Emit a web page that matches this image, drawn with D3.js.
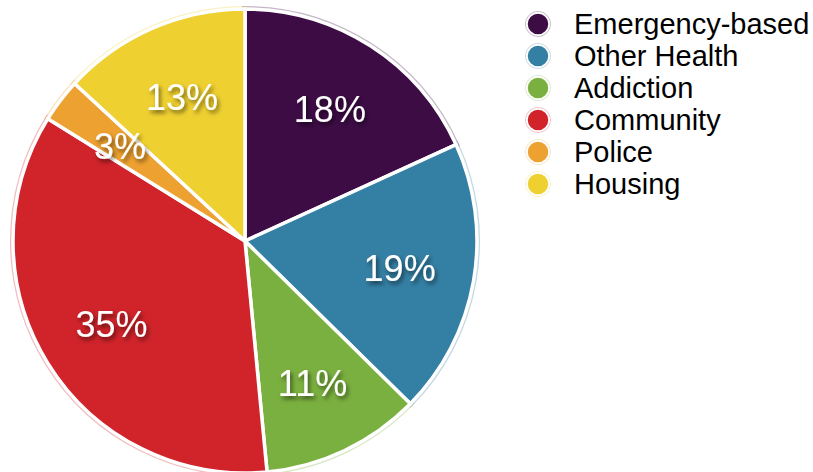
<!DOCTYPE html>
<html>
<head>
<meta charset="utf-8">
<script src="https://cdn.jsdelivr.net/npm/d3@7/dist/d3.min.js"></script>
<style>
  html, body { margin: 0; padding: 0; background: #fff; }
  svg { display: block; }
</style>
</head>
<body>
<svg id="chart" width="813" height="472"></svg>
<script>
// Share of referrals by source (percent)
const categories = ["Emergency-based", "Other Health", "Addiction", "Community", "Police", "Housing"];
const values = [18, 19, 11, 35, 3, 13];
const colors = ["#3d0c45", "#347fa4", "#7ab03f", "#d0232a", "#eda130", "#efd031"];

const svg = d3.select("#chart");
const cx = 245, cy = 241, R = 232;

// drop shadow for slice labels
const defs = svg.append("defs");
const f = defs.append("filter").attr("id", "lblShadow")
  .attr("x", "-30%").attr("y", "-30%").attr("width", "160%").attr("height", "160%");
f.append("feDropShadow").attr("dx", 2).attr("dy", 3).attr("stdDeviation", 2)
  .attr("flood-color", "#000").attr("flood-opacity", 0.55);

const data = categories.map((c, i) => ({ name: c, value: values[i], color: colors[i] }));

const pie = d3.pie().value(d => d.value).sort(null);
const arcs = pie(data);
const arc = d3.arc().innerRadius(0).outerRadius(R);
const labelArc = d3.arc().innerRadius(157).outerRadius(157);

const g = svg.append("g").attr("transform", `translate(${cx},${cy})`);

// faint coloured halo around each slice
g.selectAll("path.halo").data(arcs).join("path")
  .attr("class", "halo")
  .attr("d", arc)
  .attr("fill", d => d.data.color)
  .attr("stroke", d => d.data.color)
  .attr("stroke-opacity", 0.3)
  .attr("stroke-width", 6);

// slices with white separators
g.selectAll("path.slice").data(arcs).join("path")
  .attr("class", "slice")
  .attr("d", arc)
  .attr("fill", d => d.data.color)
  .attr("stroke", "#fff")
  .attr("stroke-width", 3.5)
  .attr("stroke-linejoin", "round");

// percentage labels
g.selectAll("text.lbl").data(arcs).join("text")
  .attr("class", "lbl")
  .attr("transform", d => `translate(${labelArc.centroid(d)})`)
  .attr("text-anchor", "middle")
  .attr("dy", "0.36em")
  .attr("fill", "#fff")
  .attr("font-family", "'Liberation Sans', Arial, Helvetica, sans-serif")
  .attr("font-size", 36)
  .attr("filter", "url(#lblShadow)")
  .text(d => d.data.value + "%");

// legend
const legend = svg.append("g").attr("transform", "translate(538,24)");
const rows = legend.selectAll("g").data(data).join("g")
  .attr("transform", (d, i) => `translate(0,${i * 32})`);
rows.append("circle").attr("r", 12.5)
  .attr("fill", "none").attr("stroke", d => d.color).attr("stroke-opacity", 0.3).attr("stroke-width", 1);
rows.append("circle").attr("r", 11)
  .attr("fill", d => d.color).attr("stroke", "#fff").attr("stroke-width", 1.5);
rows.append("text")
  .attr("x", 36).attr("y", 10)
  .attr("fill", "#000")
  .attr("font-family", "'Liberation Sans', Arial, Helvetica, sans-serif")
  .attr("font-size", 29)
  .text(d => d.name);
</script>
</body>
</html>
